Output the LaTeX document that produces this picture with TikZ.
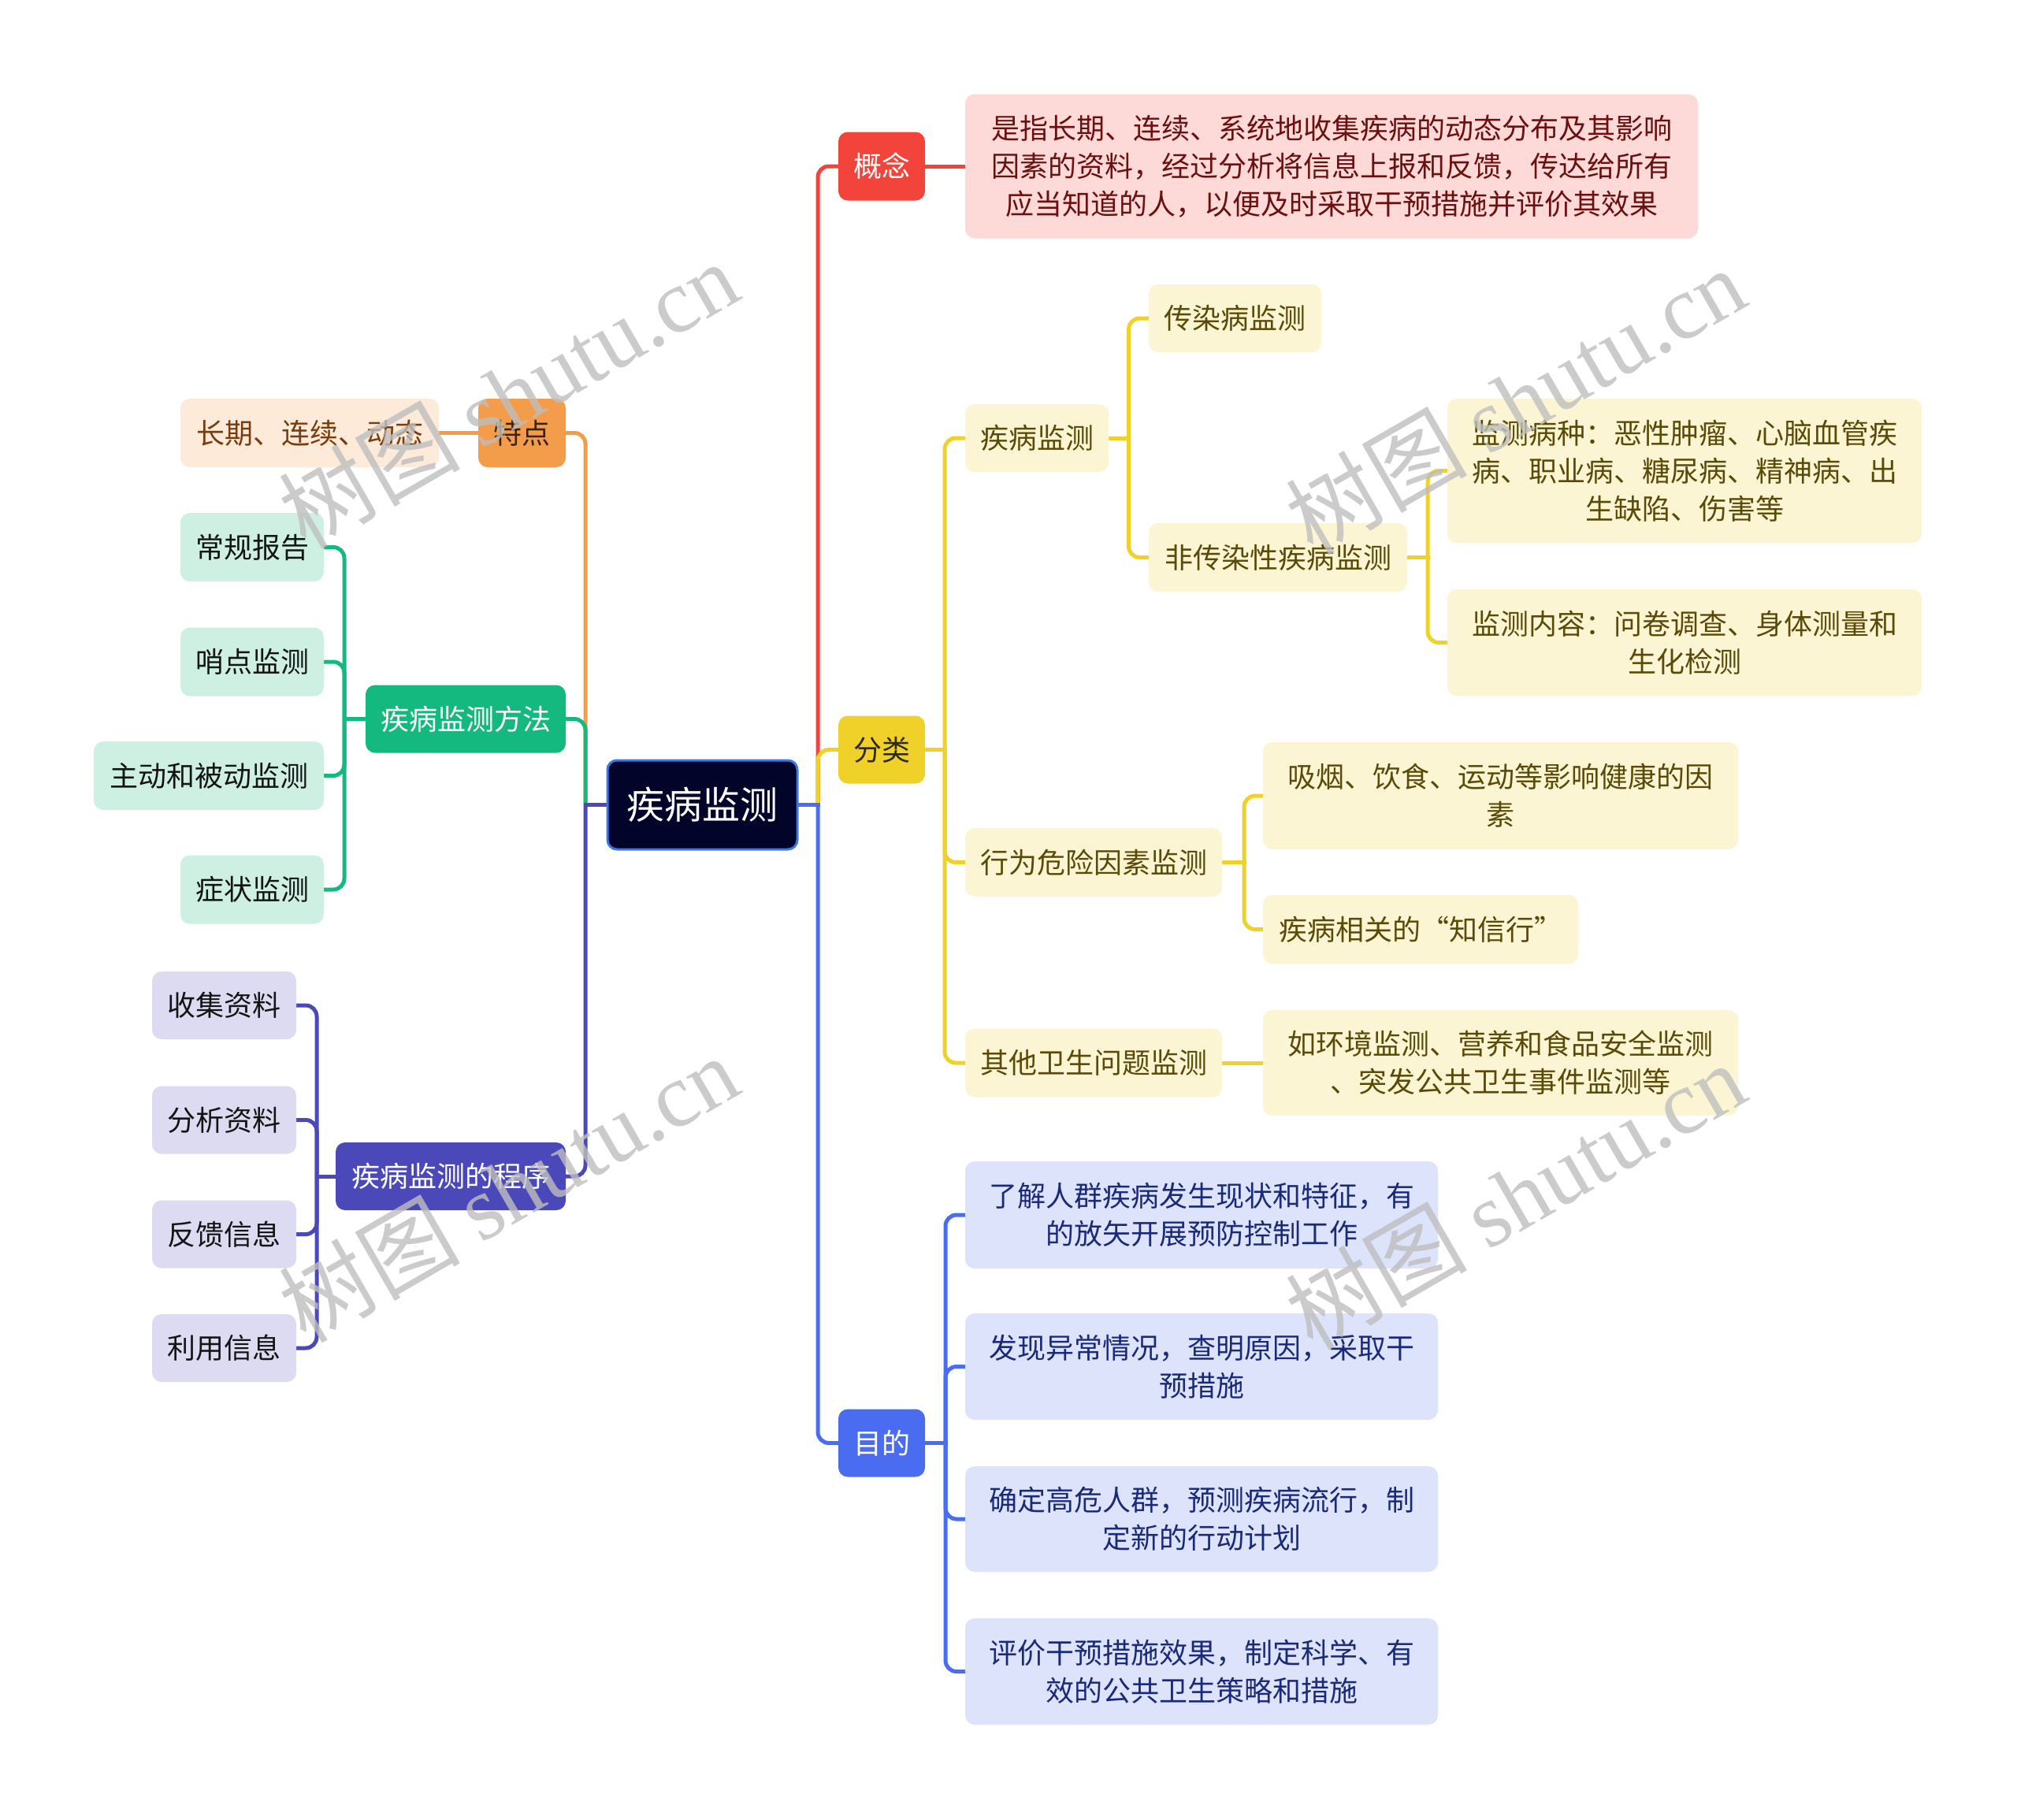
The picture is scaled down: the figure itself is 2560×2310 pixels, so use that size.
\documentclass[tikz,border=0pt]{standalone}
\usepackage{fontspec}
\setmainfont{Noto Sans CJK SC}
\newfontfamily\wmlatin{Liberation Serif}
\usetikzlibrary{calc,backgrounds}
\definecolor{rootfill}{HTML}{02042A}
\definecolor{rootborder}{HTML}{3B78E0}
\definecolor{cred}{HTML}{F2443B}
\definecolor{credl}{HTML}{FDD9D8}
\definecolor{credt}{HTML}{6B0F0F}
\definecolor{cyel}{HTML}{F0D12A}
\definecolor{cyell}{HTML}{FCF5D3}
\definecolor{cyelt}{HTML}{5A4A08}
\definecolor{cyeltt}{HTML}{2E2A10}
\definecolor{cblue}{HTML}{4A6CF0}
\definecolor{cbluel}{HTML}{DCE3FB}
\definecolor{cbluet}{HTML}{1B2A78}
\definecolor{corg}{HTML}{F39C4A}
\definecolor{corgl}{HTML}{FDEAD9}
\definecolor{corgt}{HTML}{7A3C0C}
\definecolor{corgtt}{HTML}{3A2410}
\definecolor{cgrn}{HTML}{14B97F}
\definecolor{cgrnl}{HTML}{CDF0E3}
\definecolor{cind}{HTML}{4B48B9}
\definecolor{cindl}{HTML}{DCDBF1}
\definecolor{darkt}{HTML}{141414}
\definecolor{wmgray}{HTML}{BEBEBE}
\tikzset{
  box/.style={rounded corners=12pt, inner sep=0pt, align=center, font=\fontsize{36}{48}\selectfont},
  rootbox/.style={box, fill=rootfill, draw=rootborder, line width=3pt, text=white, font=\fontsize{48}{58}\selectfont},
  redleaf/.style={box, fill=credl, text=credt},
  yelleaf/.style={box, fill=cyell, text=cyelt},
  blueleaf/.style={box, fill=cbluel, text=cbluet},
  orgleaf/.style={box, fill=corgl, text=corgt},
  grnleaf/.style={box, fill=cgrnl, text=darkt},
  indleaf/.style={box, fill=cindl, text=darkt},
  link/.style={line width=5pt, rounded corners=14pt},
  hlink/.style={line width=5pt, line cap=rect},
  wmark/.style={text=wmgray, text opacity=0.8, rotate=30, inner sep=0pt, font=\fontsize{115}{120}\selectfont},
}
\begin{document}
\begin{tikzpicture}[x=1pt,y=-1pt]
\useasboundingbox (0,0) rectangle (2560,2310);

% root
\node[rootbox, minimum width=241pt, minimum height=113pt] (root) at (891.5,1021.5) {疾病监测};

% main branches right
\node[box, fill=cred, text=white, minimum width=110pt, minimum height=87pt] (gn) at (1119,211) {概念};
\node[box, fill=cyel, text=cyeltt, minimum width=110pt, minimum height=86pt] (fl) at (1119,951.5) {分类};
\node[box, fill=cblue, text=white, minimum width=110pt, minimum height=86pt] (md) at (1119,1831.5) {目的};

% main branches left
\node[box, fill=corg, text=corgtt, minimum width=111pt, minimum height=87pt] (td) at (662.5,549.5) {特点};
\node[box, fill=cgrn, text=white, minimum width=254pt, minimum height=86pt] (ff) at (591,912.5) {疾病监测方法};
\node[box, fill=cind, text=white, minimum width=292pt, minimum height=86pt] (cx) at (572,1493) {疾病监测的程序};

% left leaves
\node[orgleaf, minimum width=328pt, minimum height=87pt] (td1) at (393,549.5) {长期、连续、动态};
\node[grnleaf, minimum width=182pt, minimum height=87pt] (ff1) at (320,694.5) {常规报告};
\node[grnleaf, minimum width=182pt, minimum height=87pt] (ff2) at (320,840) {哨点监测};
\node[grnleaf, minimum width=292pt, minimum height=87pt] (ff3) at (265,984.5) {主动和被动监测};
\node[grnleaf, minimum width=182pt, minimum height=87pt] (ff4) at (320,1129) {症状监测};
\node[indleaf, minimum width=183pt, minimum height=86pt] (cx1) at (284.5,1276) {收集资料};
\node[indleaf, minimum width=183pt, minimum height=86pt] (cx2) at (284.5,1421.5) {分析资料};
\node[indleaf, minimum width=183pt, minimum height=86pt] (cx3) at (284.5,1566.5) {反馈信息};
\node[indleaf, minimum width=183pt, minimum height=86pt] (cx4) at (284.5,1711) {利用信息};

% right leaves
\node[redleaf, minimum width=930pt, minimum height=183pt] (gn1) at (1690,211) {是指长期、连续、系统地收集疾病的动态分布及其影响\\因素的资料，经过分析将信息上报和反馈，传达给所有\\应当知道的人，以便及时采取干预措施并评价其效果};

\node[yelleaf, minimum width=182pt, minimum height=86pt] (fl1) at (1316,556) {疾病监测};
\node[yelleaf, minimum width=219pt, minimum height=86pt] (fl11) at (1567.5,404) {传染病监测};
\node[yelleaf, minimum width=328pt, minimum height=87pt] (fl12) at (1622,707.5) {非传染性疾病监测};
\node[yelleaf, minimum width=602pt, minimum height=183pt] (fl121) at (2138,597.5) {监测病种：恶性肿瘤、心脑血管疾\\病、职业病、糖尿病、精神病、出\\生缺陷、伤害等};
\node[yelleaf, minimum width=602pt, minimum height=135pt] (fl122) at (2138,815.5) {监测内容：问卷调查、身体测量和\\生化检测};
\node[yelleaf, minimum width=326pt, minimum height=87pt] (fl2) at (1388,1094.5) {行为危险因素监测};
\node[yelleaf, minimum width=603pt, minimum height=136pt] (fl21) at (1904.5,1010) {吸烟、饮食、运动等影响健康的因\\素};
\node[yelleaf, minimum width=400pt, minimum height=87pt] (fl22) at (1803,1179.5) {疾病相关的“知信行”};
\node[yelleaf, minimum width=326pt, minimum height=87pt] (fl3) at (1388,1349) {其他卫生问题监测};
\node[yelleaf, minimum width=603pt, minimum height=134pt] (fl31) at (1904.5,1349) {如环境监测、营养和食品安全监测\\、突发公共卫生事件监测等};

\node[blueleaf, minimum width=600pt, minimum height=136pt] (md1) at (1525,1542) {了解人群疾病发生现状和特征，有\\的放矢开展预防控制工作};
\node[blueleaf, minimum width=600pt, minimum height=135pt] (md2) at (1525,1734.5) {发现异常情况，查明原因，采取干\\预措施};
\node[blueleaf, minimum width=600pt, minimum height=134pt] (md3) at (1525,1928) {确定高危人群，预测疾病流行，制\\定新的行动计划};
\node[blueleaf, minimum width=600pt, minimum height=135pt] (md4) at (1525,2121.5) {评价干预措施效果，制定科学、有\\效的公共卫生策略和措施};

% connectors
\begin{scope}[on background layer]
\fill[white] (0,0) rectangle (2560,2310);
\coordinate (jR) at (1038,1021.5);
\coordinate (jL) at (743,1021.5);
\draw[link, cred] (jR) |- (gn.west);
\draw[link, cyel] (jR) |- (fl.west);
\draw[link, cblue] (jR) |- (md.west);
\draw[hlink, cblue] (root.east) -- (jR);

\draw[link, corg] (jL) |- (td.east);
\draw[link, cgrn] (jL) |- (ff.east);
\draw[link, cind] (jL) |- (cx.east);
\draw[hlink, cind] (root.west) -- (jL);

\draw[hlink, cred] (gn.east) -- (gn1.west);
\draw[hlink, corg] (td.west) -- (td1.east);

\coordinate (jF) at (1199,951.5);
\draw[hlink, cyel] (fl.east) -- (jF);
\draw[link, cyel] (jF) |- (fl1.west);
\draw[link, cyel] (jF) |- (fl2.west);
\draw[link, cyel] (jF) |- (fl3.west);

\coordinate (jF1) at (1432.5,556);
\draw[hlink, cyel] (fl1.east) -- (jF1);
\draw[link, cyel] (jF1) |- (fl11.west);
\draw[link, cyel] (jF1) |- (fl12.west);

\coordinate (jF12) at (1812,707.5);
\draw[hlink, cyel] (fl12.east) -- (jF12);
\draw[link, cyel] (jF12) |- (fl121.west);
\draw[link, cyel] (jF12) |- (fl122.west);

\coordinate (jF2) at (1579,1094.5);
\draw[hlink, cyel] (fl2.east) -- (jF2);
\draw[link, cyel] (jF2) |- (fl21.west);
\draw[link, cyel] (jF2) |- (fl22.west);

\draw[hlink, cyel] (fl3.east) -- (fl31.west);

\coordinate (jM) at (1200,1831.5);
\draw[hlink, cblue] (md.east) -- (jM);
\draw[link, cblue] (jM) |- (md1.west);
\draw[link, cblue] (jM) |- (md2.west);
\draw[link, cblue] (jM) |- (md3.west);
\draw[link, cblue] (jM) |- (md4.west);

\coordinate (jFF) at (437,912.5);
\draw[hlink, cgrn] (ff.west) -- (jFF);
\draw[link, cgrn] (jFF) |- (ff1.east);
\draw[link, cgrn] (jFF) |- (ff2.east);
\draw[link, cgrn] (jFF) |- (ff3.east);
\draw[link, cgrn] (jFF) |- (ff4.east);

\coordinate (jCX) at (402,1493);
\draw[hlink, cind] (cx.west) -- (jCX);
\draw[link, cind] (jCX) |- (cx1.east);
\draw[link, cind] (jCX) |- (cx2.east);
\draw[link, cind] (jCX) |- (cx3.east);
\draw[link, cind] (jCX) |- (cx4.east);
\end{scope}

% watermarks
\node[wmark] (wm1) at (645,500) {树图 {\wmlatin shutu.cn}};
\node[wmark] (wm2) at (1923,508) {树图 {\wmlatin shutu.cn}};
\node[wmark] (wm3) at (645,1508) {树图 {\wmlatin shutu.cn}};
\node[wmark] (wm4) at (1923,1517) {树图 {\wmlatin shutu.cn}};
\end{tikzpicture}
\end{document}
